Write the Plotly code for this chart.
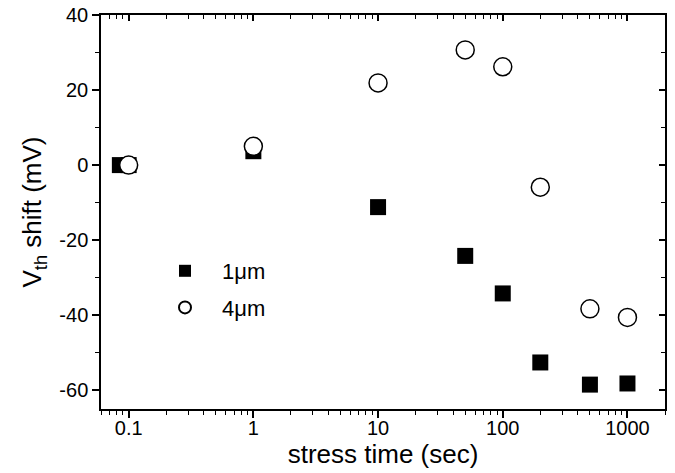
import plotly.graph_objects as go
import math

# Data
t_1um = [0.085, 0.1, 1, 10, 50, 100, 200, 500, 1000]
v_1um = [0, 0, 3.7, -11.2, -24.2, -34.2, -52.6, -58.5, -58.2]
t_4um = [0.1, 1, 10, 50, 100, 200, 500, 1000]
v_4um = [0, 5.0, 21.9, 30.7, 26.2, -5.9, -38.3, -40.6]

x_tickvals = [0.1, 1, 10, 100, 1000]
x_ticktext = ["0.1", "1", "10", "100", "1000"]
x_minor = [m * 10 ** e for e in range(-2, 4) for m in range(2, 10)]
y_tickvals = [-60, -40, -20, 0, 20, 40]
y_ticktext = ["-60", "-40", "-20", "0", "20", "40"]
y_minor = [-50, -30, -10, 10, 30]

FONT = "Liberation Sans, Arial, sans-serif"
xr = [math.log10(0.06), math.log10(2000)]
yr = [-65, 40]

fig = go.Figure()
fig.add_trace(go.Scatter(x=t_1um, y=v_1um, mode="markers", name="1\u03bcm",
                         legendgroup="a",
                         marker=dict(symbol="square", size=16, color="black",
                                     line=dict(width=0))))
fig.add_trace(go.Scatter(x=t_4um, y=v_4um, mode="markers", name="4\u03bcm",
                         legendgroup="b",
                         marker=dict(symbol="circle", size=18, color="white",
                                     line=dict(width=1.5, color="black"))))
# invisible trace to carry the mirrored (inside-tick) axes
fig.add_trace(go.Scatter(x=[1], y=[0], xaxis="x2", yaxis="y2", showlegend=False,
                         mode="markers", marker=dict(opacity=0), hoverinfo="skip"))

axcommon = dict(showgrid=False, zeroline=False, linecolor="black", linewidth=1.5,
                tickcolor="black", tickwidth=1.5, automargin=False,
                tickfont=dict(family=FONT, size=20, color="black"))

fig.update_layout(
    width=675, height=473,
    margin=dict(l=101, r=10, t=15, b=64),
    paper_bgcolor="white", plot_bgcolor="white",
    font=dict(family=FONT, color="black"),
    xaxis=dict(type="log", range=xr, tickvals=x_tickvals, ticktext=x_ticktext,
               ticks="outside", ticklen=7, ticklabelstandoff=-7,
               minor=dict(tickvals=x_minor, ticks="outside", ticklen=4,
                          tickcolor="black", tickwidth=1.2, showgrid=False),
               title=dict(text="stress time (sec)", font=dict(family=FONT, size=26),
                          standoff=0),
               **axcommon),
    yaxis=dict(range=yr, tickvals=y_tickvals, ticktext=y_ticktext,
               ticks="outside", ticklen=7,
               minor=dict(tickvals=y_minor, ticks="outside", ticklen=4,
                          tickcolor="black", tickwidth=1.2, showgrid=False),
               title=dict(text="V<sub>th</sub> shift (mV)", font=dict(family=FONT, size=26),
                          standoff=10),
               **axcommon),
    xaxis2=dict(type="log", range=xr, overlaying="x", side="top", anchor="y2",
                tickvals=x_tickvals, ticks="inside", ticklen=6, showticklabels=False,
                minor=dict(tickvals=x_minor, ticks="inside", ticklen=4,
                           tickcolor="black", tickwidth=1.2, showgrid=False),
                showline=True, **axcommon),
    yaxis2=dict(range=yr, overlaying="y", side="right", anchor="x2",
                tickvals=y_tickvals, ticks="inside", ticklen=6, showticklabels=False,
                minor=dict(tickvals=y_minor, ticks="inside", ticklen=4,
                           tickcolor="black", tickwidth=1.2, showgrid=False),
                showline=True, **axcommon),
    showlegend=True,
    legend=dict(x=(148 - 101) / 564, y=(409 - 250) / 394, xanchor="left", yanchor="top",
                bgcolor="rgba(0,0,0,0)", borderwidth=0, itemwidth=64,
                tracegroupgap=5, itemsizing="constant",
                font=dict(family=FONT, size=22, color="black")),
)
fig.update_xaxes(showline=True)
fig.update_yaxes(showline=True)

fig.write_html("out.html", config={"displayModeBar": False},
               post_script="document.body.style.margin='0';")
